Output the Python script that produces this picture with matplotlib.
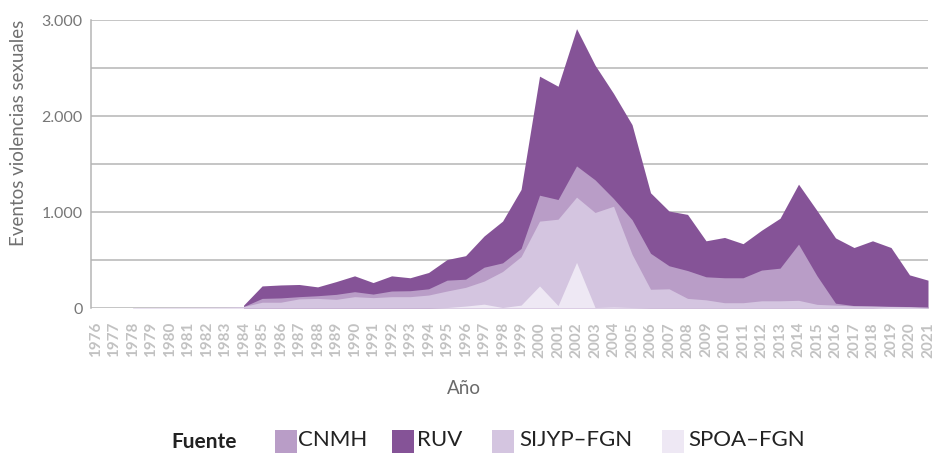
import numpy as np
import matplotlib
matplotlib.use("Agg")
import matplotlib.pyplot as plt
from matplotlib.patches import Rectangle

years = list(range(1976, 2022))
nan = np.nan
# Valores (areas superpuestas, no apiladas)
ruv = [nan]*8 + [30, 230, 240, 245, 220, 275, 335, 265, 335, 315, 370, 505, 545, 750, 905,
       1235, 2415, 2310, 2910, 2530, 2235, 1910, 1200, 1010, 975, 700, 735, 670, 810, 935,
       1290, 1015, 730, 630, 700, 630, 345, 290]
cnmh = [nan]*8 + [15, 100, 105, 118, 128, 142, 170, 145, 177, 180, 200, 290, 300, 425, 470,
        620, 1175, 1130, 1480, 1335, 1140, 920, 570, 440, 390, 325, 315, 315, 395, 415,
        665, 335, 50, 25, 20, 18, 15, 12]
sijyp = [nan]*2 + [5, 6, 7, 8, 9, 10, 15, 60, 60, 95, 100, 90, 118, 108, 118, 118, 135, 177, 215,
         280, 380, 535, 905, 925, 1155, 995, 1060, 560, 195, 200, 100, 85, 55, 55, 75, 75,
         80, 38, 30, 22, 20, 15, 10, 5]
spoa = [nan]*18 + [0, 5, 20, 40, 5, 30, 230, 25, 475, 5, 10, 5, 2, 2, 2, 2, 2, 2, 2, 2,
        2, 2, 2, 2, 2, 8, 8, 2]

colors = {"CNMH": "#b99dc7", "RUV": "#855397", "SIJYP\u2013FGN": "#d4c5e0", "SPOA\u2013FGN": "#eee8f4"}
series = [("RUV", ruv), ("CNMH", cnmh), ("SIJYP\u2013FGN", sijyp), ("SPOA\u2013FGN", spoa)]

plt.rcParams['font.family'] = ['Lato', 'DejaVu Sans']

W, H = 938, 453
fig = plt.figure(figsize=(W/100, H/100), dpi=100)
ax = fig.add_axes([91/W, 1-308/H, (928-91)/W, (308-20)/H])

x = np.array(years, dtype=float)
for name, vals in series:
    v = np.array(vals, dtype=float)
    ax.fill_between(x, 0, v, where=~np.isnan(v), color=colors[name], linewidth=0, zorder=3)

ax.set_xlim(1975.75, 2021)
ax.set_ylim(0, 3000)
ax.set_yticks([0, 1000, 2000, 3000])
ax.set_yticklabels(["0", "1.000", "2.000", "3.000"], fontsize=11.5, color="#777777")
ax.set_yticks([500, 1500, 2500], minor=True)
ax.grid(True, which="both", axis="y", color="#b5b5b5", linewidth=1.1, zorder=0)
ax.tick_params(axis="y", which="both", length=0, pad=6)
ax.set_xticks(years)
ax.set_xticklabels([str(y) for y in years], rotation=90, fontsize=11, color="#c2c2c2",
                   fontweight="bold")
ax.tick_params(axis="x", length=0, pad=10)
for s in ["top", "right", "bottom"]:
    ax.spines[s].set_visible(False)
ax.spines["left"].set_color("#b5b5b5")
ax.spines["left"].set_linewidth(1.1)
ax.set_axisbelow(True)

fig.text(19/W, 1-133/H, "Eventos violencias sexuales", fontsize=13.5, color="#707070",
         rotation=90, ha="center", va="center")
fig.text(464/W, 1-388/H, "Año", fontsize=13.5, color="#6a6a6a", ha="center", va="center")

# Leyenda
fig.text(171/W, 1-442/H, "Fuente", fontsize=15, fontweight="bold", color="#222222",
         ha="left", va="center")
leg_items = [("CNMH", 275, 298), ("RUV", 392, 417), ("SIJYP\u2013FGN", 492, 519),
             ("SPOA\u2013FGN", 662, 688)]
for lab, sx, tx in leg_items:
    fig.patches.append(Rectangle((sx/W, 1-453/H), 22/W, 23/H, transform=fig.transFigure,
                                 facecolor=colors[lab], edgecolor="none"))
    fig.text(tx/W, 1-440/H, lab, fontsize=16, color="#222222", ha="left", va="center")

fig.savefig("out.png", dpi=100)
